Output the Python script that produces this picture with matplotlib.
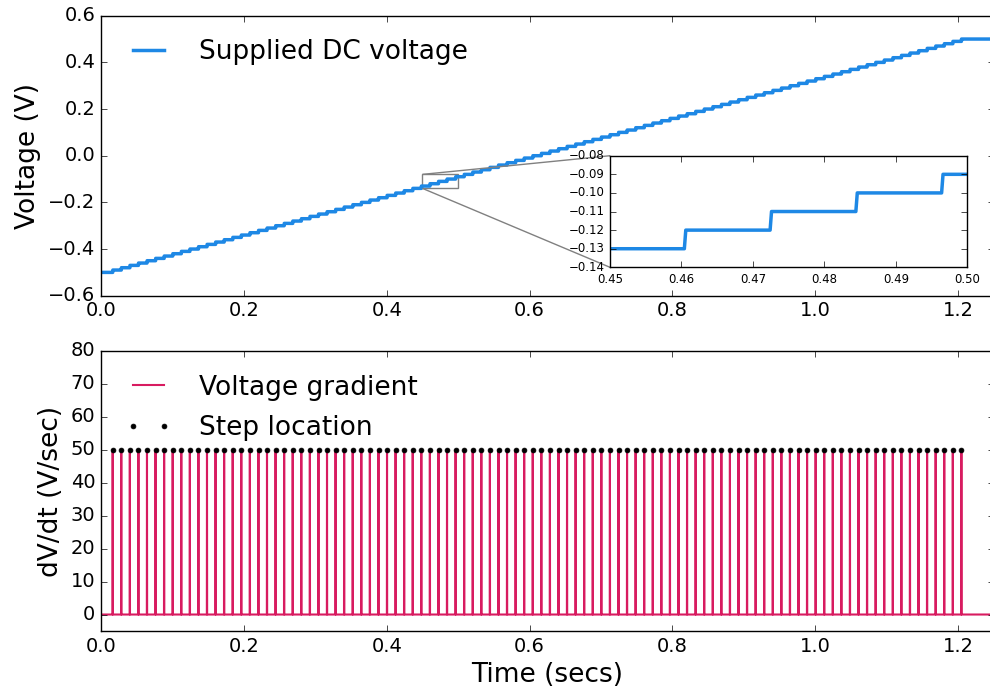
import numpy as np
import matplotlib
matplotlib.use('Agg')
import matplotlib.pyplot as plt
from mpl_toolkits.axes_grid1.inset_locator import mark_inset

plt.style.use('classic')

# step times (secs)
step_times = [
    0.0165, 0.0285, 0.0405, 0.0525, 0.0645, 0.0765, 0.0885, 0.1005, 0.1125, 0.1245,
    0.1365, 0.1485, 0.1605, 0.1725, 0.1845, 0.1965, 0.2085, 0.2205, 0.2325, 0.2445,
    0.2565, 0.2685, 0.2805, 0.2925, 0.3045, 0.3165, 0.3285, 0.3405, 0.3525, 0.3645,
    0.3765, 0.3885, 0.4005, 0.4125, 0.4245, 0.4365, 0.4485, 0.4605, 0.4725, 0.4845,
    0.4965, 0.5085, 0.5205, 0.5325, 0.5445, 0.5565, 0.5685, 0.5805, 0.5925, 0.6045,
    0.6165, 0.6285, 0.6405, 0.6525, 0.6645, 0.6765, 0.6885, 0.7005, 0.7125, 0.7245,
    0.7365, 0.7485, 0.7605, 0.7725, 0.7845, 0.7965, 0.8085, 0.8205, 0.8325, 0.8445,
    0.8565, 0.8685, 0.8805, 0.8925, 0.9045, 0.9165, 0.9285, 0.9405, 0.9525, 0.9645,
    0.9765, 0.9885, 1.0005, 1.0125, 1.0245, 1.0365, 1.0485, 1.0605, 1.0725, 1.0845,
    1.0965, 1.1085, 1.1205, 1.1325, 1.1445, 1.1565, 1.1685, 1.1805, 1.1925, 1.2045,
]
v_start = -0.5      # V
v_step = 0.01       # V per step
dt = 0.0002         # sample spacing (secs)
t_end = 1.25

# sampled signal
t = np.arange(0, t_end + dt, dt)
v = v_start + v_step * np.searchsorted(step_times, t, side='right')
grad = np.diff(v) / dt
step_grad = grad[np.searchsorted(t, step_times) - 1]

blue = '#1e88e5'
pink = '#d81b60'

fig = plt.figure(figsize=(9.9, 6.89), dpi=100, facecolor='white')

ax1 = fig.add_axes([0.102, 0.5708, 0.902, 0.4064])
ax1.plot(t, v, color=blue, lw=2.5, label='Supplied DC voltage')
ax1.set_xlim(0, t_end)
ax1.set_ylim(-0.6, 0.6)
ax1.set_ylabel('Voltage (V)', fontsize=19)
ax1.tick_params(labelsize=14)
ax1.legend(loc='upper left', frameon=False, fontsize=19, numpoints=2,
           handlelength=1.8, handletextpad=1.0)

# zoomed inset
axins = fig.add_axes([0.6162, 0.612, 0.3609, 0.162])
axins.plot(t, v, color=blue, lw=2.5)
axins.set_xlim(0.45, 0.50)
axins.set_ylim(-0.14, -0.08)
axins.tick_params(labelsize=8.5)
mark_inset(ax1, axins, loc1=2, loc2=3, fc='none', ec='0.5')

ax2 = fig.add_axes([0.102, 0.0842, 0.902, 0.4064])
ax2.plot(t[:-1], grad, color=pink, lw=1.5, label='Voltage gradient')
ax2.plot(step_times, step_grad, 'o', color='black', markersize=3.5,
         markeredgecolor='black', label='Step location')
ax2.set_xlim(0, t_end)
ax2.set_ylim(-5, 80)
ax2.set_ylabel('dV/dt (V/sec)', fontsize=19)
ax2.set_xlabel('Time (secs)', fontsize=19)
ax2.tick_params(labelsize=14)
ax2.legend(loc='upper left', frameon=False, fontsize=19, numpoints=2,
           handlelength=1.8, handletextpad=1.0, labelspacing=0.55)

fig.savefig('out.png', dpi=100, facecolor='white')
